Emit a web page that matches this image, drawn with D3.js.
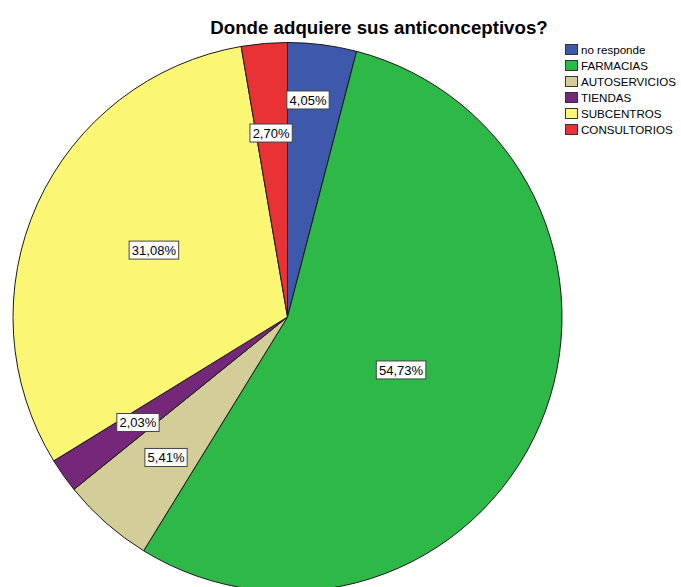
<!DOCTYPE html>
<html>
<head>
<meta charset="utf-8">
<script src="https://cdn.jsdelivr.net/npm/d3@7"></script>
<style>
  body { margin: 0; background: #fff; }
  svg { display: block; }
</style>
</head>
<body>
<svg id="chart" width="681" height="587"></svg>
<script>
// ---- data ----
const categories = ["no responde", "FARMACIAS", "AUTOSERVICIOS", "TIENDAS", "SUBCENTROS", "CONSULTORIOS"];
const percents = [4.05, 54.73, 5.41, 2.03, 31.08, 2.70];
const percentLabels = ["4,05%", "54,73%", "5,41%", "2,03%", "31,08%", "2,70%"];
const colors = ["#3e58ac", "#2eb848", "#d3ce97", "#75287a", "#fbf674", "#e93236"];
const title = "Donde adquiere sus anticonceptivos?";

// ---- layout (label placement, polar: radius px, angle deg clockwise from 12 o'clock) ----
const labelPolar = [[218, 5.4], [125.3, 115.0], [185.7, 220.85], [183, 234.8], [149.4, 296.6], [184.7, 354.9]];

const svg = d3.select("#chart");
const cx = 287.5, cy = 317, R = 274.5;

svg.append("text")
  .attr("x", 379).attr("y", 34)
  .attr("text-anchor", "middle")
  .attr("font-family", "Liberation Sans, Arial, sans-serif")
  .attr("font-weight", "bold")
  .attr("font-size", "18.7px")
  .attr("fill", "#000")
  .text(title);

const data = categories.map((c, i) => ({ cat: c, value: percents[i], label: percentLabels[i], color: colors[i], lp: labelPolar[i] }));

const pie = d3.pie().value(d => d.value).sort(null).startAngle(0).endAngle(2 * Math.PI);
const arc = d3.arc().innerRadius(0).outerRadius(R);

const g = svg.append("g").attr("transform", `translate(${cx},${cy})`);

g.selectAll("path.slice")
  .data(pie(data))
  .join("path")
  .attr("class", "slice")
  .attr("d", arc)
  .attr("fill", d => d.data.color)
  .attr("stroke", "#1a1a1a")
  .attr("stroke-width", 1);

const labels = g.selectAll("g.lbl")
  .data(pie(data))
  .join("g")
  .attr("class", "lbl")
  .attr("transform", d => {
    const r = d.data.lp[0], a = d.data.lp[1] * Math.PI / 180;
    return `translate(${r * Math.sin(a)},${-r * Math.cos(a)})`;
  });

labels.each(function(d) {
  const sel = d3.select(this);
  const t = sel.append("text")
    .attr("text-anchor", "middle")
    .attr("dy", "0.36em")
    .attr("font-family", "Liberation Sans, Arial, sans-serif")
    .attr("font-size", "13px")
    .attr("fill", "#000")
    .text(d.data.label);
  const bb = t.node().getBBox();
  const w = bb.width + 5, h = 18;
  sel.insert("rect", "text")
    .attr("x", -w / 2).attr("y", -h / 2)
    .attr("width", w).attr("height", h)
    .attr("fill", "#fff")
    .attr("stroke", "#444")
    .attr("stroke-width", 1);
});

// legend
const legend = svg.append("g").attr("transform", "translate(565,44)");
const rows = legend.selectAll("g.row")
  .data(data)
  .join("g")
  .attr("class", "row")
  .attr("transform", (d, i) => `translate(0,${i * 16})`);
rows.append("rect")
  .attr("x", 0.5).attr("y", 0.5)
  .attr("width", 12).attr("height", 10)
  .attr("fill", d => d.color)
  .attr("stroke", "#333")
  .attr("stroke-width", 1);
rows.append("text")
  .attr("x", 16).attr("y", 9.5)
  .attr("font-family", "Liberation Sans, Arial, sans-serif")
  .attr("font-size", "11.6px")
  .attr("fill", "#000")
  .text(d => d.cat);
</script>
</body>
</html>
